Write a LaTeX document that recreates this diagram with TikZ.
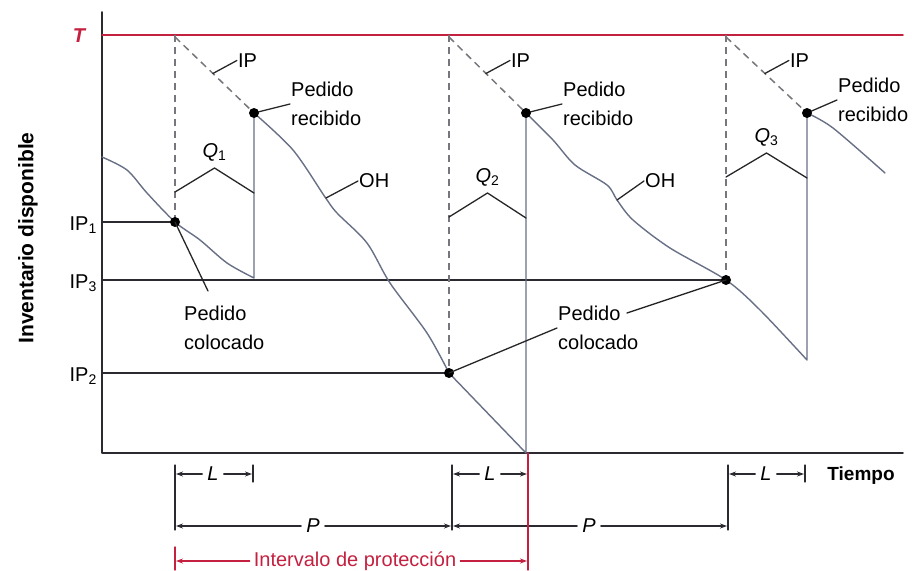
\documentclass[tikz,border=0pt]{standalone}
\usepackage{fontspec}
\setmainfont{Liberation Sans}
\usetikzlibrary{calc,arrows.meta}
\definecolor{ohgray}{RGB}{104,112,134}
\definecolor{ipgray}{RGB}{118,118,124}
\definecolor{tred}{RGB}{196,32,64}
\definecolor{axdark}{RGB}{42,42,48}
\begin{document}
\begin{tikzpicture}[x=1pt,y=-1pt,line cap=round,line join=round,>={Stealth[length=7pt,width=5pt]},
  every node/.style={inner sep=1pt,font=\fontsize{20}{29}\selectfont},
  ohline/.style={ohgray,line width=1.4pt},
  ipline/.style={ipgray,line width=1.5pt,line cap=butt,dash pattern=on 7pt off 5pt},
  axline/.style={axdark,line width=1.6pt},
  leader/.style={black!85,line width=1.3pt},
  dimline/.style={axdark,line width=1.2pt},
  dimlab/.style={inner sep=5pt,font=\fontsize{20}{24}\selectfont\itshape}]
  \useasboundingbox (0,0) rectangle (912,570);
  % ejes y nivel T
  \draw[axline] (102,12) -- (102,453) -- (903,453);
  \draw[tred,line width=1.7pt] (102,35) -- (903,35);
  \node[tred,font=\fontsize{20}{24}\selectfont\bfseries\itshape] (T) at (79,36) {T};
  \node[rotate=90,font=\fontsize{21}{24}\selectfont\bfseries] (inv) at (28,238) {Inventario disponible};
  % niveles IP en el momento del pedido
  \draw[axline] (102,222) -- (175,222);
  \draw[axline] (102,280) -- (726,280);
  \draw[axline] (102,373) -- (449,373);
  \node[anchor=east] (ipy1) at (98,225) {IP\textsubscript{1}};
  \node[anchor=east] (ipy3) at (98,283) {IP\textsubscript{3}};
  \node[anchor=east] (ipy2) at (98,376) {IP\textsubscript{2}};
  % inventario disponible (OH)
  \draw[ohline] plot[smooth] coordinates {(102,157) (127,170) (147,193) (175,222) (200,240) (227,263) (254,278)} -- (254,113);
  \draw[ohline] plot[smooth] coordinates {(254,113) (293,150) (325,197) (337,213) (367,243) (390,283) (427,333) (449,373)} -- (526,453) -- (526,113);
  \draw[ohline] plot[smooth] coordinates {(526,113) (553,140) (575,165) (607,185) (617,200) (633,220) (670,248) (726,280) (760,310) (807,360)} -- (807,113);
  \draw[ohline] plot[smooth] coordinates {(807,113) (833,128) (885,173)};
  % ciclos: posicion IP, cantidad Q, pedido recibido
  \foreach \xa/\xb/\yo/\yq/\xr/\yr/\i in {175/254/222/192/36/104/1, 449/526/373/217/36/104/2, 726/807/280/177/30/100/3} {
    \draw[ipline] (\xa,35) -- (\xa,\yo);
    \draw[ipline] (\xa,37) -- (\xb,113);
    \coordinate (ipa\i) at ($(\xa,37)!0.48!(\xb,113)$);
    \node[anchor=west] (iplab\i) at ($(ipa\i)+(24,-13)$) {IP};
    \draw[leader] (ipa\i) -- (iplab\i.west);
    \draw[leader] (\xa,\yq) -- ({(\xa+\xb)/2},{\yq-24}) -- (\xb,{\yq+1});
    \node (q\i) at ({(\xa+\xb)/2},{\yq-40}) {\textit{Q}\textsubscript{\i}};
    \coordinate (rec\i) at (\xb,113);
    \node[anchor=west,align=left] (reclab\i) at ({\xb+\xr},\yr) {Pedido\\recibido};
    \draw[leader] (rec\i) -- (reclab\i.west);
    \coordinate (col\i) at (\xa,\yo);
    \fill (col\i) circle[radius=5pt];
    \fill (rec\i) circle[radius=5pt];
  }
  % etiquetas OH
  \coordinate (oh1) at (326,198);
  \coordinate (oh2) at (617,200);
  \node[anchor=west] (ohlab1) at (358,181) {OH};
  \node[anchor=west] (ohlab2) at (644,181) {OH};
  \draw[leader] (oh1) -- (ohlab1.west);
  \draw[leader] (oh2) -- (ohlab2.west);
  % pedido colocado
  \node[anchor=west,align=left] (colab1) at (183,328) {Pedido\\colocado};
  \coordinate (c1end) at (208,291);
  \draw[leader] (col1) -- (c1end);
  \node[anchor=west,align=left] (colab2) at (557,328) {Pedido\\colocado};
  \coordinate (c2start) at (627,313);
  \draw[leader] (col2) -- (colab2.west);
  \draw[leader] (c2start) -- (col3);
  % cotas L y P
  \foreach \x in {175,452,728} {
    \draw[dimline] (\x,465) -- (\x,530);
  }
  \draw[dimline] (253,465) -- (253,482);
  \draw[dimline] (805,465) -- (805,482);
  \node[dimlab] (L1) at (213,474) {L};
  \node[dimlab] (L2) at (490,474) {L};
  \node[dimlab] (L3) at (766,474) {L};
  \draw[dimline,->] (L1.west) -- (176,474);
  \draw[dimline,->] (L1.east) -- (252,474);
  \draw[dimline,->] (L2.west) -- (453,474);
  \draw[dimline,->] (L2.east) -- (527,474);
  \draw[dimline,->] (L3.west) -- (729,474);
  \draw[dimline,->] (L3.east) -- (804,474);
  \node[font=\fontsize{19}{24}\selectfont\bfseries] (tiempo) at (861,476) {Tiempo};
  \node[dimlab] (P1) at (313,526) {P};
  \node[dimlab] (P2) at (589,526) {P};
  \draw[dimline,->] (P1.west) -- (176,526);
  \draw[dimline,->] (P1.east) -- (451,526);
  \draw[dimline,->] (P2.west) -- (453,526);
  \draw[dimline,->] (P2.east) -- (727,526);
  % intervalo de proteccion
  \draw[tred,line width=1.4pt] (528,453) -- (528,570);
  \draw[tred,line width=1.4pt] (175,547) -- (175,570);
  \node[tred,inner sep=4pt] (prot) at (355,561) {Intervalo de protección};
  \draw[tred,line width=1.3pt,->] (prot.west) -- (176,561);
  \draw[tred,line width=1.3pt,->] (prot.east) -- (527,561);
\end{tikzpicture}
\end{document}
